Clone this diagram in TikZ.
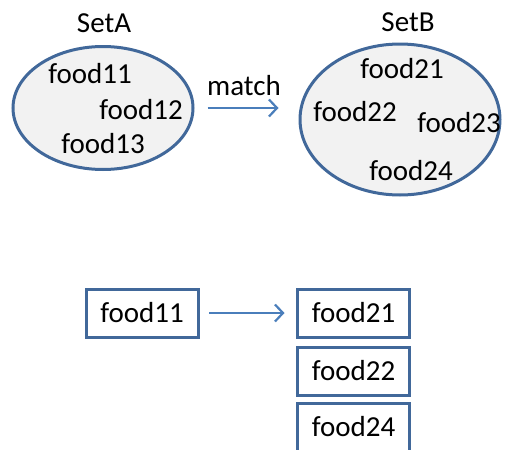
\documentclass[tikz,border=0pt]{standalone}
\usepackage{fontspec}
\setmainfont{Carlito}
\usetikzlibrary{arrows.meta,positioning,shapes.geometric}
\definecolor{setblue}{RGB}{65,104,154}
\definecolor{arrowblue}{RGB}{74,126,187}
\definecolor{setfill}{RGB}{242,242,242}

\tikzset{
  txt/.style={font=\fontsize{29}{33}\selectfont, inner sep=0pt, anchor=base},
  setshape/.style={ellipse, draw=setblue, fill=setfill, line width=3pt, inner sep=0pt},
  foodbox/.style={draw=setblue, line width=3pt, minimum width=112pt, minimum height=48pt,
    inner sep=0pt, outer sep=0pt, font=\fontsize{29}{33}\selectfont},
  flow/.style={draw=arrowblue, line width=2.2pt, -{Straight Barb[length=8pt,width=17pt]}}
}

\begin{document}
\begin{tikzpicture}[x=1pt,y=-1pt]
  \useasboundingbox (0,0) rectangle (509,450);
  % Set A
  \node[setshape, minimum width=180pt, minimum height=123pt] (setA) at (103,108) {};
  \node[txt] (labA) at (104,32) {SetA};
  \node[txt] (a11) at (90,83) {food11};
  \node[txt] (a12) at (141,119) {food12};
  \node[txt] (a13) at (103,153) {food13};
  % Set B
  \node[setshape, minimum width=200pt, minimum height=151pt] (setB) at (400,119.5) {};
  \node[txt] (labB) at (408,31) {SetB};
  \node[txt] (b21) at (402,78) {food21};
  \node[txt] (b22) at (355,121) {food22};
  \node[txt] (b23) at (459,132) {food23};
  \node[txt] (b24) at (411,180) {food24};
  % match arrow
  \coordinate (mEnd) at (setA.east -| setB.west);
  \draw[flow, shorten <=13pt, shorten >=20pt] (setA.east) -- (mEnd);
  \node[txt] (match) at (244,95) {match};
  % Boxes
  \node[foodbox] (box11) at (142,313) {food11};
  \node[foodbox] (box21) at (353.5,313) {food21};
  \node[foodbox, below=10pt of box21] (box22) {food22};
  \node[foodbox, below=8pt of box22] (box24) {food24};
  \draw[flow, shorten <=11pt, shorten >=13pt] (box11) -- (box21);
\end{tikzpicture}
\end{document}
